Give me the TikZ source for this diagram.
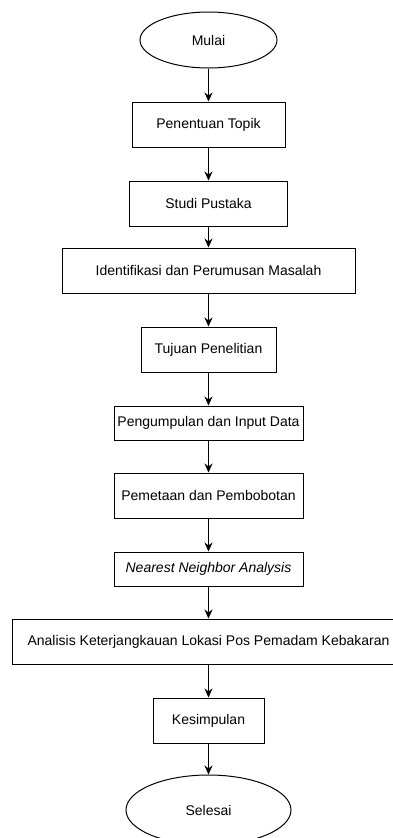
\documentclass[tikz,border=0pt]{standalone}
\usepackage{fontspec}
\setmainfont{Liberation Sans}
\usetikzlibrary{shapes.geometric, arrows.meta}
\tikzstyle{terminal} = [ellipse, draw, line width=1pt, inner sep=0pt, text centered, font=\fontsize{14}{16}\selectfont]
\tikzstyle{proses} = [rectangle, draw, line width=1pt, inner sep=0pt, minimum height=45pt, text centered, font=\fontsize{14}{16}\selectfont]
\tikzstyle{arrow} = [line width=0.9pt,->,>={Stealth[length=9pt,width=8pt]}]

\begin{document}
\begin{tikzpicture}[x=1pt,y=-1pt]
            \useasboundingbox (0,0) rectangle (393,838);
            \node [terminal, minimum width=137pt, minimum height=56pt] at (208.5,40) (mulai) {Mulai};
            \node [proses, minimum width=153pt] at (208.5,124.5) (topik) {Penentuan Topik};
            \node [proses, minimum width=158pt] at (208.5,203.5) (pustaka) {Studi Pustaka};
            \node [proses, minimum width=293pt] at (208.5,270.5) (identifikasi) {Identifikasi dan Perumusan Masalah};
            \node [proses, minimum width=135pt] at (208.5,349.5) (tujuan) {Tujuan Penelitian};
            \node [proses, minimum width=189pt, minimum height=34pt] at (208.5,423) (pengumpulan) {Pengumpulan dan Input Data};
            \node [proses, minimum width=189pt] at (208.5,495.5) (pemetaan) {Pemetaan dan Pembobotan};
            \node [proses, minimum width=189pt, minimum height=34pt] at (208.5,569) (nna) {\itshape Nearest Neighbor Analysis};
            \node [proses, minimum width=392pt] at (208.5,641.5) (analisis) {Analisis Keterjangkauan Lokasi Pos Pemadam Kebakaran};
            \node [proses, minimum width=111pt] at (208.5,720.5) (kesimpulan) {Kesimpulan};
            \node [terminal, minimum width=165pt, minimum height=70pt] at (208.5,810) (selesai) {Selesai};
            \draw [arrow] (mulai) -- (topik);
            \draw [arrow] (topik) -- (pustaka);
            \draw [arrow] (pustaka) -- (identifikasi);
            \draw [arrow] (identifikasi) -- (tujuan);
            \draw [arrow] (tujuan) -- (pengumpulan);
            \draw [arrow] (pengumpulan) -- (pemetaan);
            \draw [arrow] (pemetaan) -- (nna);
            \draw [arrow] (nna) -- (analisis);
            \draw [arrow] (analisis) -- (kesimpulan);
            \draw [arrow] (kesimpulan) -- (selesai);
            \end{tikzpicture}
\end{document}
